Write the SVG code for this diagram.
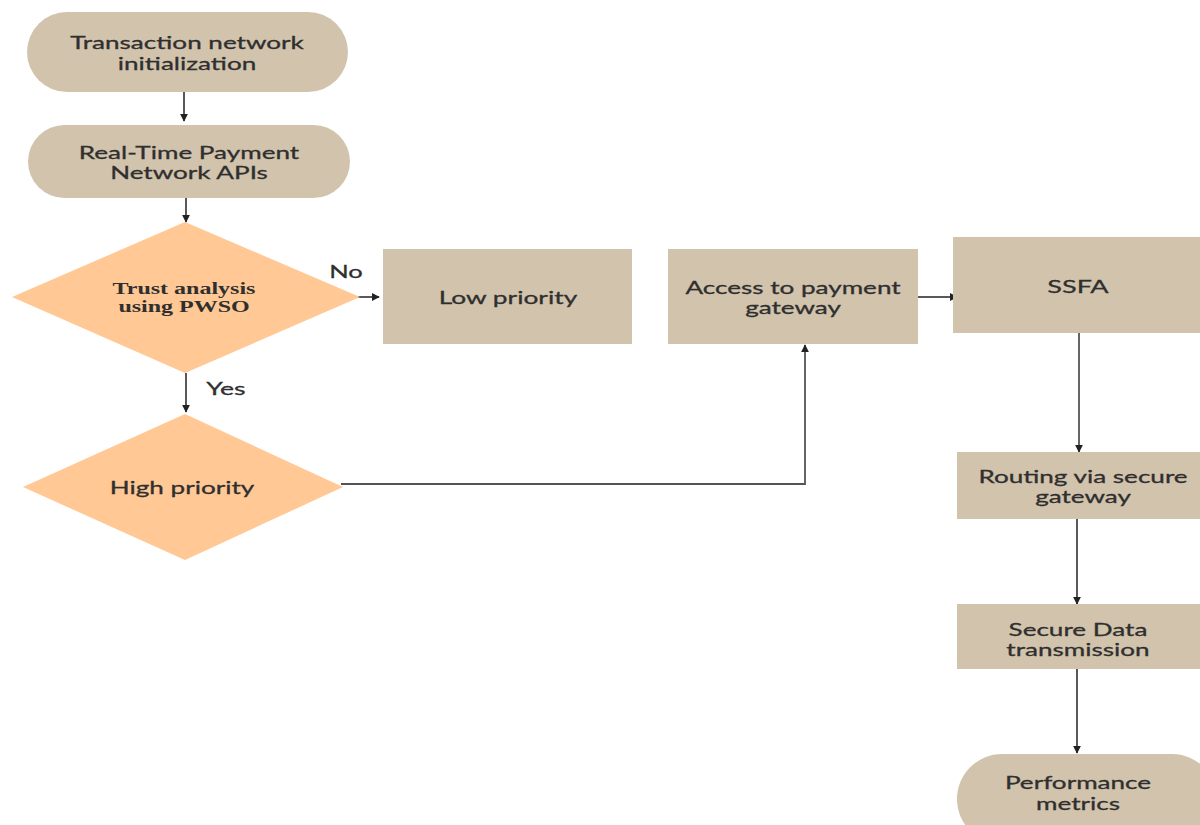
<svg xmlns="http://www.w3.org/2000/svg" width="1200" height="825" viewBox="0 0 1200 825">
<defs>
<style>
.box{fill:#D2C3AC;}
.dia{fill:#FFC894;}
.t{font-family:Lato,"Liberation Sans",sans-serif;font-size:18px;fill:#2f2f2f;stroke:#2f2f2f;stroke-width:0.3;text-anchor:middle;}
.ts{font-family:"Liberation Serif",serif;font-size:16px;font-weight:bold;fill:#2f2f2f;text-anchor:middle;}
.c{stroke:#222;stroke-width:1.5;fill:none;}
.g{stroke:#555;stroke-width:1.8;fill:none;}
</style>
<marker id="ah" viewBox="0 0 10 10" refX="9" refY="5" markerWidth="8" markerHeight="8" markerUnits="userSpaceOnUse" orient="auto">
<path d="M0,0 L10,5 L0,10 z" fill="#222"/>
</marker>
</defs>
<rect width="1200" height="825" fill="#fff"/>
<g id="connectors">
<line class="c" x1="184" y1="92" x2="184" y2="121" marker-end="url(#ah)"/>
<line class="c" x1="186" y1="198" x2="186" y2="222" marker-end="url(#ah)"/>
<line class="c" x1="342" y1="297" x2="379" y2="297" marker-end="url(#ah)"/>
<line class="c" x1="186" y1="373" x2="186" y2="412" marker-end="url(#ah)"/>
<polyline class="g" points="341,484 805,484 805,345" marker-end="url(#ah)"/>
<line class="c" x1="918" y1="297" x2="957" y2="297" marker-end="url(#ah)"/>
<line class="g" x1="1079" y1="333" x2="1079" y2="452" marker-end="url(#ah)"/>
<line class="c" x1="1077" y1="519" x2="1077" y2="604" marker-end="url(#ah)"/>
<line class="c" x1="1077" y1="669" x2="1077" y2="753" marker-end="url(#ah)"/>
<text class="t" transform="translate(346,278) scale(1.42,1)">No</text>
<text class="t" transform="translate(226,395) scale(1.48,1)">Yes</text>
</g>
<g id="n1">
<rect class="box" x="27" y="12" width="321" height="80" rx="40"/>
<text class="t" transform="translate(187,49) scale(1.45,1)">Transaction network</text>
<text class="t" transform="translate(187,70) scale(1.45,1)">initialization</text>
</g>
<g id="n2">
<rect class="box" x="28" y="125" width="322" height="73" rx="36.5"/>
<text class="t" transform="translate(189,159) scale(1.45,1)">Real-Time Payment</text>
<text class="t" transform="translate(189,179) scale(1.45,1)">Network APIs</text>
</g>
<g id="d1">
<polygon class="dia" points="185,222 360,297 185,373 12,297"/>
<text class="ts" transform="translate(184,294) scale(1.5,1)">Trust analysis</text>
<text class="ts" transform="translate(184,312) scale(1.5,1)">using PWSO</text>
</g>
<g id="d2">
<polygon class="dia" points="185,414 343,487 185,560 23,487"/>
<text class="t" transform="translate(182,494) scale(1.45,1)">High priority</text>
</g>
<g id="low">
<rect class="box" x="383" y="249" width="249" height="95"/>
<text class="t" transform="translate(508,304) scale(1.46,1)">Low priority</text>
</g>
<g id="access">
<rect class="box" x="668" y="249" width="250" height="95"/>
<text class="t" transform="translate(793,294) scale(1.45,1)">Access to payment</text>
<text class="t" transform="translate(793,314) scale(1.45,1)">gateway</text>
</g>
<g id="ssfa">
<rect class="box" x="953" y="237" width="247" height="96"/>
<text class="t" transform="translate(1078,293) scale(1.5,1)">SSFA</text>
</g>
<g id="routing">
<rect class="box" x="957" y="452" width="243" height="67"/>
<text class="t" transform="translate(1083,483) scale(1.45,1)">Routing via secure</text>
<text class="t" transform="translate(1083,503) scale(1.45,1)">gateway</text>
</g>
<g id="secure">
<rect class="box" x="957" y="604" width="243" height="65"/>
<text class="t" transform="translate(1078,636) scale(1.45,1)">Secure Data</text>
<text class="t" transform="translate(1078,656) scale(1.45,1)">transmission</text>
</g>
<g id="perf">
<rect class="box" x="957" y="754" width="260" height="90" rx="45"/>
<text class="t" transform="translate(1078,789) scale(1.45,1)">Performance</text>
<text class="t" transform="translate(1078,810) scale(1.45,1)">metrics</text>
</g>
</svg>
